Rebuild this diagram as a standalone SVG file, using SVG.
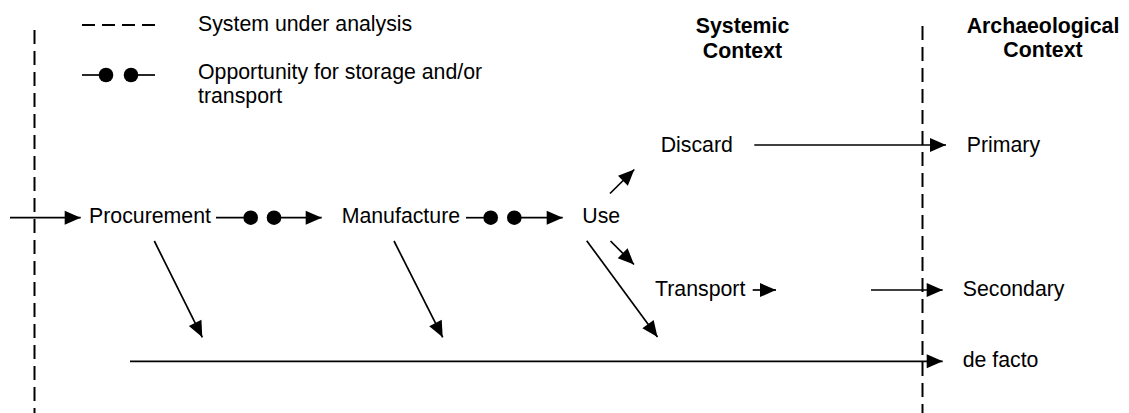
<svg xmlns="http://www.w3.org/2000/svg" width="1129" height="413" viewBox="0 0 1129 413">
<style>
  text { font-family: "Liberation Sans", Arial, sans-serif; font-size: 21.3px; fill: #000; }
  .hdr { font-weight: bold; text-anchor: middle; }
  .ln { stroke: #000; stroke-width: 1.7; fill: none; }
  .arr { stroke: #000; stroke-width: 1.7; fill: none; marker-end: url(#ah); }
  .dash { stroke: #000; stroke-width: 2; fill: none; stroke-dasharray: 14 7; }
  .dot { fill: #000; }
</style>
<defs>
  <marker id="ah" markerUnits="userSpaceOnUse" markerWidth="17" markerHeight="15" refX="16" refY="7" orient="auto" overflow="visible">
    <path d="M0,0 L16,7 L0,14 z" fill="#000"/>
  </marker>
</defs>
<rect width="1129" height="413" fill="#fff"/>

<g id="legend">
  <line x1="82" y1="25" x2="155" y2="25" class="ln" style="stroke-width:2;stroke-dasharray:13 7"/>
  <text x="198" y="31">System under analysis</text>
  <line x1="82" y1="75" x2="106" y2="75" class="ln"/>
  <circle cx="106" cy="75" r="7.3" class="dot"/>
  <circle cx="131" cy="75" r="7.3" class="dot"/>
  <line x1="131" y1="75" x2="155" y2="75" class="ln"/>
  <text x="198" y="79">Opportunity for storage and/or</text>
  <text x="198" y="103">transport</text>
</g>

<g id="boundaries">
  <line x1="34.5" y1="30" x2="34.5" y2="413" class="dash"/>
  <line x1="922.5" y1="26" x2="922.5" y2="413" class="dash"/>
</g>

<g id="systemic-context"><text class="hdr" x="742.5" y="33">Systemic</text><text class="hdr" x="742.5" y="57.5">Context</text></g>
<g id="archaeological-context"><text class="hdr" x="1043" y="32.5">Archaeological</text><text class="hdr" x="1043" y="57">Context</text></g>

<g id="procurement"><text x="89" y="223.3">Procurement</text></g>
<g id="manufacture"><text x="341.7" y="223.3">Manufacture</text></g>
<g id="use"><text x="582.3" y="223">Use</text></g>
<g id="discard"><text x="660.7" y="151.7">Discard</text></g>
<g id="transport"><text x="655" y="295.5">Transport</text></g>
<g id="primary"><text x="966.7" y="151.7">Primary</text></g>
<g id="secondary"><text x="962.7" y="295.5">Secondary</text></g>
<g id="de-facto"><text x="962.7" y="367">de facto</text></g>

<g id="connectors">
  <line x1="10" y1="217.7" x2="80.7" y2="217.7" class="arr"/>
  <!-- Procurement to Manufacture with storage dots -->
  <line x1="216" y1="217.7" x2="250.7" y2="217.7" class="ln"/>
  <circle cx="250.7" cy="217.7" r="7.3" class="dot"/>
  <circle cx="274" cy="217.7" r="7.3" class="dot"/>
  <line x1="274" y1="217.7" x2="321.7" y2="217.7" class="arr"/>
  <!-- Manufacture to Use with storage dots -->
  <line x1="466" y1="217.7" x2="490.7" y2="217.7" class="ln"/>
  <circle cx="490.7" cy="217.7" r="7.3" class="dot"/>
  <circle cx="514.3" cy="217.7" r="7.3" class="dot"/>
  <line x1="514.3" y1="217.7" x2="562.7" y2="217.7" class="arr"/>
  <!-- Use branches -->
  <line x1="610" y1="193.5" x2="634.3" y2="169.5" class="arr"/>
  <line x1="610.5" y1="241" x2="634" y2="264.5" class="arr"/>
  <line x1="586.7" y1="240.7" x2="657.5" y2="337" class="arr"/>
  <!-- diagonals to de facto -->
  <line x1="154.3" y1="241" x2="202.3" y2="337.3" class="arr"/>
  <line x1="394" y1="241" x2="442.7" y2="337.3" class="arr"/>
  <!-- to archaeological context -->
  <line x1="754.3" y1="145" x2="946" y2="145" class="arr"/>
  <line x1="752.7" y1="290" x2="776" y2="290" class="arr"/>
  <line x1="871" y1="290" x2="942.7" y2="290" class="arr"/>
  <line x1="130" y1="361.3" x2="942.7" y2="361.3" class="arr"/>
</g>
</svg>
